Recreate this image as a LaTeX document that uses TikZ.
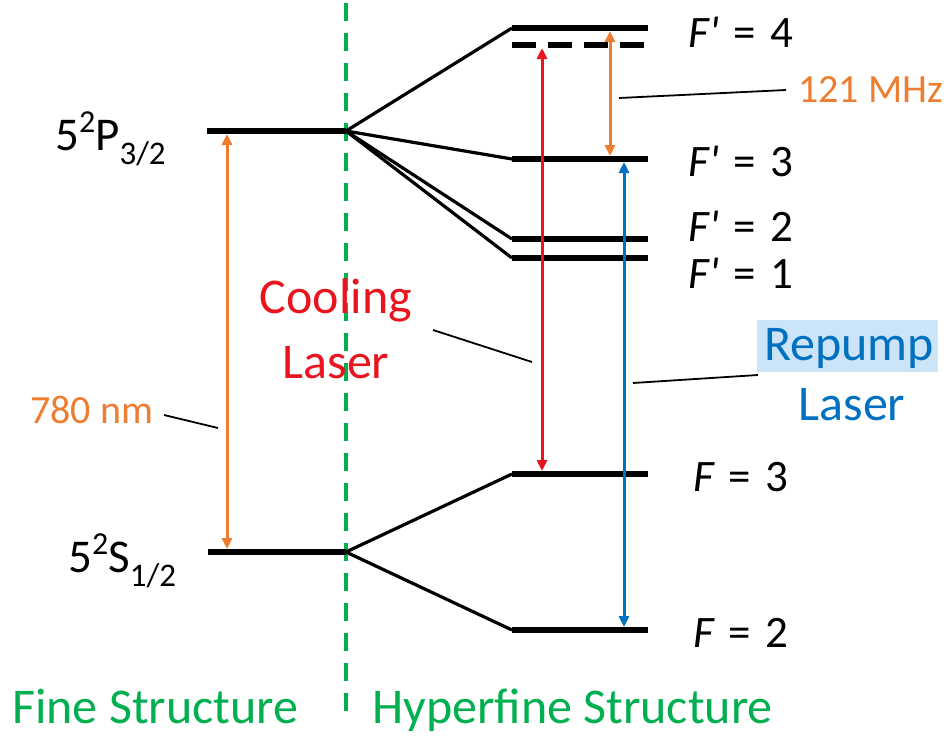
\documentclass[tikz,border=0pt]{standalone}
\usepackage{fontspec}
\setmainfont{Carlito}
\usetikzlibrary{arrows.meta}
\definecolor{lvlorange}{RGB}{237,125,49}
\definecolor{lvlred}{RGB}{232,20,30}
\definecolor{lvlblue}{RGB}{0,112,192}
\definecolor{lvlgreen}{RGB}{0,176,80}
\definecolor{hilite}{RGB}{204,228,247}
\tikzset{
  level/.style={line width=6pt},
  split/.style={line width=3.2pt},
  trans/.style={line width=3pt,{Triangle[length=11pt,width=10pt]}-{Triangle[length=11pt,width=10pt]}},
  leader/.style={line width=1.8pt},
  divider/.style={lvlgreen,line width=4.5pt,dash pattern=on 18pt off 12pt},
  lbl/.style={inner sep=0pt,anchor=base west},
  bigfont/.style={font=\fontsize{50}{56}\selectfont},
  midfont/.style={font=\fontsize{45}{50}\selectfont},
  termfont/.style={font=\fontsize{47}{52}\selectfont},
  smallfont/.style={font=\fontsize{40}{44}\selectfont},
}
\newcommand{\supx}[1]{\raisebox{0.38em}{\fontsize{32}{34}\selectfont #1}}
\newcommand{\subx}[1]{\raisebox{-0.3em}{\fontsize{33}{35}\selectfont #1}}
\newcommand{\prm}{\textit{\textquotesingle}}
\newcommand{\eqsp}{\hspace{0.3em}=\hspace{0.33em}}
\begin{document}
\begin{tikzpicture}[x=1pt,y=-1pt]
\useasboundingbox (0,0) rectangle (948,736);
% divider
\coordinate (dtop) at (346,3);
\coordinate (dbot) at (346,717);
\draw[divider] (dtop) -- (dbot);
% fine levels
\coordinate (Pl) at (207,131); \coordinate (P) at (346,131);
\coordinate (Sl) at (208,552); \coordinate (S) at (346,552);
\draw[level] (Pl) -- (P);
\draw[level] (Sl) -- (S);
% hyperfine levels
\foreach \n/\y in {F4/28,F3p/159,F2p/239,F1p/258,G3/474,G2/630}{
  \coordinate (\n l) at (512,\y); \coordinate (\n r) at (648,\y);
  \draw[level] (\n l) -- (\n r);
}
\coordinate (D l) at (512,45); \coordinate (D r) at (648,45);
\draw[level,dash pattern=on 24pt off 12pt] (D l) -- (D r);
% splitting lines
\foreach \n in {F4,F3p,F2p,F1p}{\draw[split] (P) -- (\n l);}
\foreach \n in {G3,G2}{\draw[split] (S) -- (\n l);}
% transitions
\coordinate (o1t) at (227,134); \coordinate (o1b) at (227,549);
\draw[trans,lvlorange] (o1t) -- (o1b);
\coordinate (o2t) at (610,31); \coordinate (o2b) at (610,156);
\draw[trans,lvlorange] (o2t) -- (o2b);
\coordinate (rt) at (542,48); \coordinate (rb) at (542,471);
\draw[trans,lvlred] (rt) -- (rb);
\coordinate (bt) at (624,162); \coordinate (bb) at (624,627);
\draw[trans,lvlblue] (bt) -- (bb);
% labels
\node[lbl,termfont] (lP) at (55,150) {5\supx{2}P\subx{3/2}};
\node[lbl,termfont] (lS) at (68,572) {5\supx{2}S\subx{1/2}};
\node[lbl,midfont] (l4) at (688,47) {\textit{F}\prm\eqsp 4};
\node[lbl,midfont] (l3) at (688,176) {\textit{F}\prm\eqsp 3};
\node[lbl,midfont] (l2) at (688,241) {\textit{F}\prm\eqsp 2};
\node[lbl,midfont] (l1) at (688,288) {\textit{F}\prm\eqsp 1};
\node[lbl,midfont] (g3) at (693,491) {\textit{F}\eqsp 3};
\node[lbl,midfont] (g2) at (693,647) {\textit{F}\eqsp 2};
\node[lbl,smallfont,text=lvlorange] (l780) at (30,423) {780 nm};
\node[lbl,smallfont,text=lvlorange] (l121) at (798,102) {121 MHz};
\node[inner sep=0pt,anchor=base,bigfont,text=lvlred] (cool1) at (336,313) {Cooling};
\node[inner sep=0pt,anchor=base,bigfont,text=lvlred] (cool2) at (336,378) {Laser};
\fill[hilite] (757,320) rectangle (938,372);
\node[inner sep=0pt,anchor=base,bigfont,text=lvlblue] (rep1) at (849,360) {Repump};
\node[inner sep=0pt,anchor=base,bigfont,text=lvlblue] (rep2) at (852,420) {Laser};
\node[lbl,bigfont,text=lvlgreen] (fs) at (12,723) {Fine Structure};
\node[lbl,bigfont,text=lvlgreen] (hfs) at (372,723) {Hyperfine Structure};
% leaders
\coordinate (k1) at (164,415); \coordinate (k2) at (218,428);
\draw[leader] (k1) -- (k2);
\coordinate (k3) at (619,98); \coordinate (k4) at (786,90);
\draw[leader] (k3) -- (k4);
\coordinate (k5) at (433,330); \coordinate (k6) at (532,362);
\draw[leader] (k5) -- (k6);
\coordinate (k7) at (633,383); \coordinate (k8) at (758,375);
\draw[leader] (k7) -- (k8);
\end{tikzpicture}
\end{document}
